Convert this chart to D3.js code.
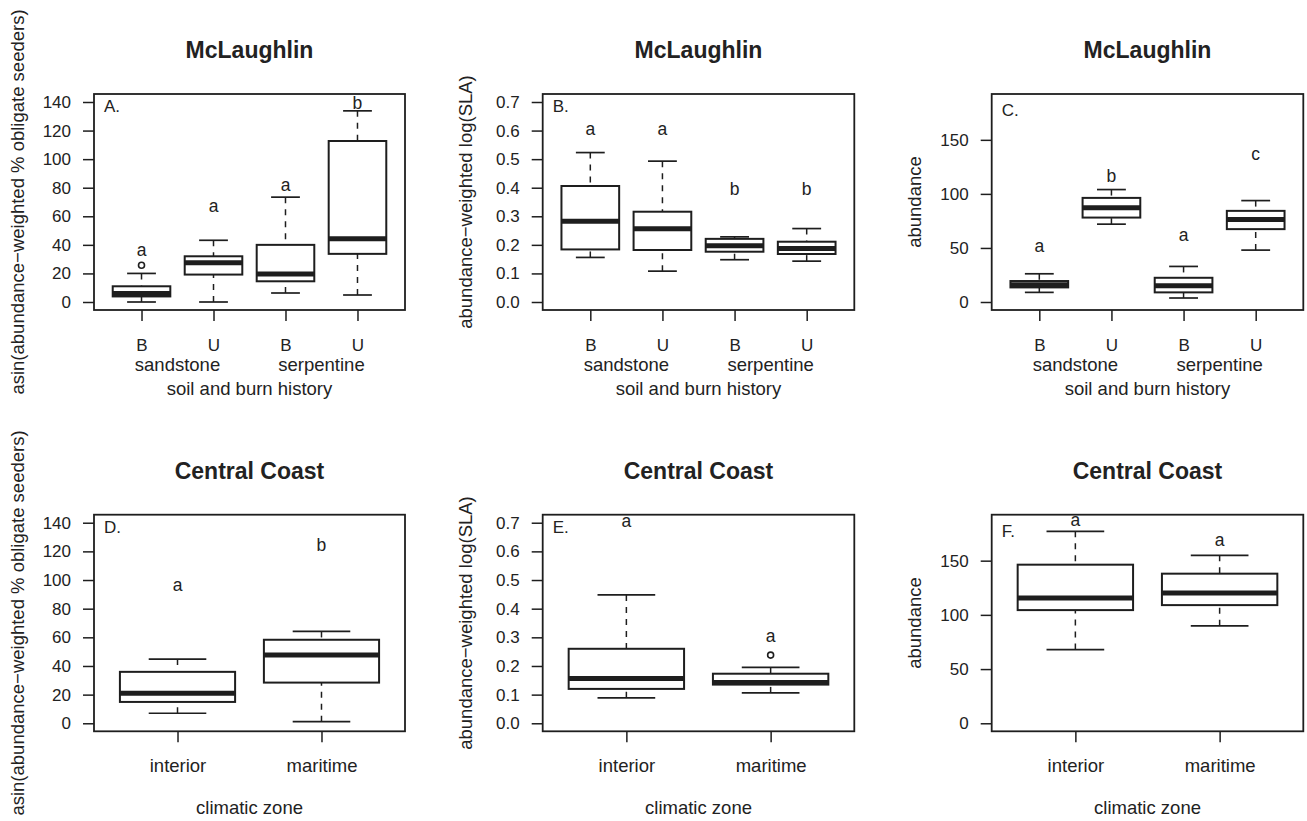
<!DOCTYPE html>
<html lang="en">
<head>
<meta charset="utf-8">
<title>Boxplots: McLaughlin and Central Coast</title>
<script src="https://cdn.jsdelivr.net/npm/d3@7"></script>
<style>
  body { margin: 0; background: #fff; }
  svg text { font-family: "Liberation Sans", Arial, Helvetica, sans-serif; fill: #222; }
</style>
</head>
<body>
<div id="chart"></div>
<script>
// categories
var mclCats = ["B", "U", "B", "U"];
var mclSoils = ["sandstone", "serpentine"];
var ccCats = ["interior", "maritime"];

// tick labels
var seedTicks = [0, 20, 40, 60, 80, 100, 120, 140];
var slaTicks = [0, 0.1, 0.2, 0.3, 0.4, 0.5, 0.6, 0.7];
var abunTicks = [0, 50, 100, 150];

// box stats: [lower whisker, Q1, median, Q3, upper whisker]
var seedMcl = [[0, 3.9, 6, 11, 20], [0, 19.2, 27.4, 32, 43.2], [6.3, 14.5, 19.6, 40, 73.4], [4.9, 33.7, 44.2, 112.7, 133.8]];
var seedMclOut = [[25.7], [], [], []];
var seedMclLet = ["a", "a", "a", "b"];
var seedMclLetY = [32.3, 62.7, 77.4, 135.3];

var slaMcl = [[0.156, 0.184, 0.283, 0.406, 0.523], [0.108, 0.182, 0.256, 0.316, 0.493], [0.148, 0.176, 0.197, 0.221, 0.228], [0.143, 0.168, 0.187, 0.211, 0.257]];
var slaMclOut = [[], [], [], []];
var slaMclLet = ["a", "a", "b", "b"];
var slaMclLetY = [0.585, 0.585, 0.374, 0.374];

var abunMcl = [[8.9, 13.5, 16, 19.4, 26.1], [72, 78.1, 87.1, 96.3, 104], [3.7, 8.9, 15, 22.4, 32.9], [48, 67.4, 76.3, 84.3, 93.8]];
var abunMclOut = [[], [], [], []];
var abunMclLet = ["a", "b", "a", "c"];
var abunMclLetY = [46.4, 111.0, 56.0, 131.7];

var seedCc = [[7, 14.9, 21, 35.9, 44.8], [1.1, 28.4, 47.6, 58.3, 64.1]];
var seedCcOut = [[], []];
var seedCcLet = ["a", "b"];
var seedCcLetY = [92.1, 120.3];

var slaCc = [[0.089, 0.120, 0.156, 0.260, 0.448], [0.106, 0.135, 0.142, 0.173, 0.195]];
var slaCcOut = [[], [0.238]];
var slaCcLet = ["a", "a"];
var slaCcLetY = [0.685, 0.285];

var abunCc = [[68, 104.4, 115.5, 146.3, 177.1], [89.9, 109, 120.1, 138, 154.9]];
var abunCcOut = [[], []];
var abunCcLet = ["a", "a"];
var abunCcLetY = [182.3, 163.8];

var seedTitle = "asin(abundance\u2212weighted % obligate seeders)";
var slaTitle = "abundance\u2212weighted log(SLA)";
var abunTitle = "abundance";

var W = 1307, H = 821;
var colX = [[94, 405], [542.7, 854.3], [991.7, 1303.3]];
var rowY = [[94, 310], [514.7, 731.3]];

var panels = [
  {tag: "A.", tagDy: 17.7, title: "McLaughlin", col: 0, row: 0, cats: mclCats, groups: mclSoils, xlab: "soil and burn history",
   ylab: seedTitle, ylim: [0, 140], ticks: seedTicks, fmt: d3.format("d"), stats: seedMcl, out: seedMclOut, lets: seedMclLet, letY: seedMclLetY},
  {tag: "B.", tagDy: 17.7, title: "McLaughlin", col: 1, row: 0, cats: mclCats, groups: mclSoils, xlab: "soil and burn history",
   ylab: slaTitle, ylim: [0, 0.7], ticks: slaTicks, fmt: d3.format(".1f"), stats: slaMcl, out: slaMclOut, lets: slaMclLet, letY: slaMclLetY},
  {tag: "C.", tagDy: 22, title: "McLaughlin", col: 2, row: 0, cats: mclCats, groups: mclSoils, xlab: "soil and burn history",
   ylab: abunTitle, ylim: [0, 185], ticks: abunTicks, fmt: d3.format("d"), stats: abunMcl, out: abunMclOut, lets: abunMclLet, letY: abunMclLetY},
  {tag: "D.", tagDy: 18.6, title: "Central Coast", col: 0, row: 1, cats: ccCats, groups: null, xlab: "climatic zone",
   ylab: seedTitle, ylim: [0, 140], ticks: seedTicks, fmt: d3.format("d"), stats: seedCc, out: seedCcOut, lets: seedCcLet, letY: seedCcLetY},
  {tag: "E.", tagDy: 18.6, title: "Central Coast", col: 1, row: 1, cats: ccCats, groups: null, xlab: "climatic zone",
   ylab: slaTitle, ylim: [0, 0.7], ticks: slaTicks, fmt: d3.format(".1f"), stats: slaCc, out: slaCcOut, lets: slaCcLet, letY: slaCcLetY},
  {tag: "F.", tagDy: 22.6, title: "Central Coast", col: 2, row: 1, cats: ccCats, groups: null, xlab: "climatic zone",
   ylab: abunTitle, ylim: [0, 185], ticks: abunTicks, fmt: d3.format("d"), stats: abunCc, out: abunCcOut, lets: abunCcLet, letY: abunCcLetY}
];

var ink = "#1e1e1e";
var labSize = "18.5px";

var svg = d3.select("#chart").append("svg")
  .attr("width", W).attr("height", H);
svg.append("rect").attr("width", W).attr("height", H).attr("fill", "#fff");

panels.forEach(function(p) {
  var x0 = colX[p.col][0], x1 = colX[p.col][1];
  var y0 = rowY[p.row][0], y1 = rowY[p.row][1];
  var n = p.cats.length;
  // R style 4% axis extension
  var xpad = n * 0.04;
  var x = d3.scaleLinear().domain([0.5 - xpad, n + 0.5 + xpad]).range([x0, x1]);
  var ypad = (p.ylim[1] - p.ylim[0]) * 0.04;
  var y = d3.scaleLinear().domain([p.ylim[0] - ypad, p.ylim[1] + ypad]).range([y1, y0]);

  var g = svg.append("g");

  // title
  g.append("text")
    .attr("x", (x0 + x1) / 2).attr("y", y0 - 35.8)
    .attr("text-anchor", "middle")
    .style("font-size", "23px").style("font-weight", "bold")
    .text(p.title);

  // y axis
  var yAxis = d3.axisLeft(y).tickValues(p.ticks).tickFormat(p.fmt)
    .tickSize(11).tickPadding(12).tickSizeOuter(0);
  var ya = g.append("g").attr("transform", "translate(" + x0 + ",0)").call(yAxis);
  ya.select(".domain").remove();
  ya.selectAll(".tick line").attr("stroke", ink).attr("stroke-width", 1.5);
  ya.selectAll(".tick text").style("font-size", "17px").attr("fill", "#222");

  // x axis
  var xAxis = d3.axisBottom(x).tickValues(d3.range(1, n + 1)).tickFormat(function(d) { return p.cats[d - 1]; })
    .tickSize(11).tickPadding(16).tickSizeOuter(0);
  var xa = g.append("g").attr("transform", "translate(0," + y1 + ")").call(xAxis);
  xa.select(".domain").remove();
  xa.selectAll(".tick line").attr("stroke", ink).attr("stroke-width", 1.5);
  xa.selectAll(".tick text").attr("dy", null).attr("y", 40.5)
    .style("font-size", p.groups ? "17px" : labSize).attr("fill", "#222");

  if (p.groups) {
    g.selectAll(".grp").data(p.groups).enter().append("text")
      .attr("x", function(d, i) { return x(2 * i + 1.5); })
      .attr("y", y1 + 60.7)
      .attr("text-anchor", "middle").style("font-size", labSize)
      .text(function(d) { return d; });
    g.append("text").attr("x", (x0 + x1) / 2).attr("y", y1 + 85)
      .attr("text-anchor", "middle").style("font-size", labSize).text(p.xlab);
  } else {
    g.append("text").attr("x", (x0 + x1) / 2).attr("y", y1 + 83)
      .attr("text-anchor", "middle").style("font-size", labSize).text(p.xlab);
  }

  // y label
  g.append("text")
    .attr("transform", "translate(" + (x0 - 70.5) + "," + ((y0 + y1) / 2) + ") rotate(-90)")
    .attr("text-anchor", "middle").style("font-size", labSize)
    .text(p.ylab);

  // boxes
  var bw = 0.4, cw = 0.2;
  var boxes = g.selectAll(".box").data(p.stats).enter().append("g");
  // whiskers (dashed)
  boxes.append("line")
    .attr("x1", function(d, i) { return x(i + 1); }).attr("x2", function(d, i) { return x(i + 1); })
    .attr("y1", function(d) { return y(d[0]); }).attr("y2", function(d) { return y(d[1]); })
    .attr("stroke", ink).attr("stroke-width", 1.5).attr("stroke-dasharray", "6,6");
  boxes.append("line")
    .attr("x1", function(d, i) { return x(i + 1); }).attr("x2", function(d, i) { return x(i + 1); })
    .attr("y1", function(d) { return y(d[4]); }).attr("y2", function(d) { return y(d[3]); })
    .attr("stroke", ink).attr("stroke-width", 1.5).attr("stroke-dasharray", "6,6");
  // caps
  [0, 4].forEach(function(k) {
    boxes.append("line")
      .attr("x1", function(d, i) { return x(i + 1 - cw); }).attr("x2", function(d, i) { return x(i + 1 + cw); })
      .attr("y1", function(d) { return y(d[k]); }).attr("y2", function(d) { return y(d[k]); })
      .attr("stroke", ink).attr("stroke-width", 1.7);
  });
  // box
  boxes.append("rect")
    .attr("x", function(d, i) { return x(i + 1 - bw); })
    .attr("width", function() { return x(1 + bw) - x(1 - bw); })
    .attr("y", function(d) { return y(d[3]); })
    .attr("height", function(d) { return y(d[1]) - y(d[3]); })
    .attr("fill", "#fff").attr("stroke", ink).attr("stroke-width", 2);
  // median
  boxes.append("line")
    .attr("x1", function(d, i) { return x(i + 1 - bw); }).attr("x2", function(d, i) { return x(i + 1 + bw); })
    .attr("y1", function(d) { return y(d[2]); }).attr("y2", function(d) { return y(d[2]); })
    .attr("stroke", ink).attr("stroke-width", 5);
  // outliers
  p.out.forEach(function(vals, i) {
    vals.forEach(function(v) {
      g.append("circle").attr("cx", x(i + 1)).attr("cy", y(v)).attr("r", 3)
        .attr("fill", "none").attr("stroke", ink).attr("stroke-width", 1.6);
    });
  });
  // significance letters
  g.selectAll(".let").data(p.lets).enter().append("text")
    .attr("x", function(d, i) { return x(i + 1); })
    .attr("y", function(d, i) { return y(p.letY[i]); })
    .attr("text-anchor", "middle").style("font-size", "17.5px")
    .text(function(d) { return d; });

  // frame
  g.append("rect").attr("x", x0).attr("y", y0).attr("width", x1 - x0).attr("height", y1 - y0)
    .attr("fill", "none").attr("stroke", ink).attr("stroke-width", 1.8);

  // panel tag
  g.append("text").attr("x", x0 + 10).attr("y", y0 + p.tagDy)
    .style("font-size", "17px").text(p.tag);
});
</script>
</body>
</html>
